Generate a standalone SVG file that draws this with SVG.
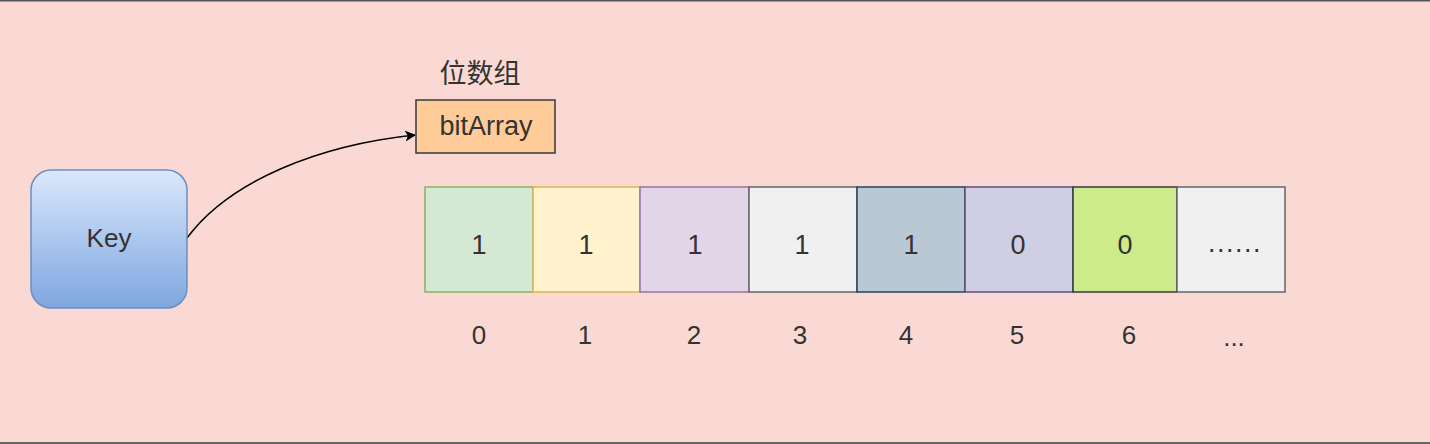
<svg xmlns="http://www.w3.org/2000/svg" width="1430" height="444" viewBox="0 0 1430 444">
<style>
.t{font-family:"Liberation Sans",Arial,"Noto Sans CJK SC",sans-serif;fill:#333;text-anchor:middle;dominant-baseline:central}
.cell{stroke-width:1.5}
.n{font-size:27px}
.idx{font-size:26px}
</style>
<defs>
<linearGradient id="kg" x1="0" y1="0" x2="0" y2="1">
<stop offset="0" stop-color="#dae8fc"/>
<stop offset="1" stop-color="#7ea6e0"/>
</linearGradient>
<marker id="ah" viewBox="0 0 10 10" refX="9" refY="5" markerWidth="11" markerHeight="11" markerUnits="userSpaceOnUse" orient="auto">
<path d="M0,0 L10,5 L0,10 L2.5,5 Z" fill="#000"/>
</marker>
</defs>
<rect x="0" y="0" width="1430" height="444" fill="#fad9d5"/>
<rect x="0" y="0" width="1430" height="1.5" fill="#555"/>
<rect x="0" y="442" width="1430" height="2" fill="#666"/>
<g id="connectors">
<path d="M187,238 C230,180 320,145 415,135" fill="none" stroke="#000" stroke-width="1.5" marker-end="url(#ah)"/>
</g>
<g id="key">
<rect x="31" y="170" width="156" height="138" rx="20" fill="url(#kg)" stroke="#6c8ebf" stroke-width="1.5"/>
<text class="t" x="109" y="238" font-size="26">Key</text>
</g>
<g id="bitArray">
<text class="t" x="480" y="74" font-size="27">位数组</text>
<rect x="416" y="100" width="139" height="53" fill="#ffcc99" stroke="#36393d" stroke-width="1.5"/>
<text class="t" x="486" y="126" font-size="27">bitArray</text>
</g>
<g id="cell0"><rect class="cell" x="425" y="187" width="108" height="105" fill="#d5e8d4" stroke="#82b366"/><text class="t n" x="479" y="245">1</text></g>
<g id="cell1"><rect class="cell" x="533" y="187" width="107" height="105" fill="#fff2cc" stroke="#d6b656"/><text class="t n" x="586" y="245">1</text></g>
<g id="cell2"><rect class="cell" x="640" y="187" width="109" height="105" fill="#e1d5e7" stroke="#9673a6"/><text class="t n" x="695" y="245">1</text></g>
<g id="cell3"><rect class="cell" x="749" y="187" width="108" height="105" fill="#f0f0f0" stroke="#666666"/><text class="t n" x="802" y="245">1</text></g>
<g id="cell4"><rect class="cell" x="857" y="187" width="108" height="105" fill="#bac8d3" stroke="#23445d"/><text class="t n" x="911" y="245">1</text></g>
<g id="cell5"><rect class="cell" x="965" y="187" width="108" height="105" fill="#d0cee2" stroke="#56517e"/><text class="t n" x="1018" y="245">0</text></g>
<g id="cell6"><rect class="cell" x="1073" y="187" width="104" height="105" fill="#cdeb8b" stroke="#36393d"/><text class="t n" x="1125" y="245">0</text></g>
<g id="cell7"><rect class="cell" x="1177" y="187" width="108" height="105" fill="#f0f0f0" stroke="#666666"/><text class="t n" x="1235" y="243" letter-spacing="1.5">......</text></g>
<g id="indices">
<text class="t idx" x="479" y="335">0</text>
<text class="t idx" x="585" y="335">1</text>
<text class="t idx" x="694" y="335">2</text>
<text class="t idx" x="800" y="335">3</text>
<text class="t idx" x="906" y="335">4</text>
<text class="t idx" x="1017" y="335">5</text>
<text class="t idx" x="1129" y="335">6</text>
<text class="t idx" x="1234" y="337">...</text>
</g>
</svg>
